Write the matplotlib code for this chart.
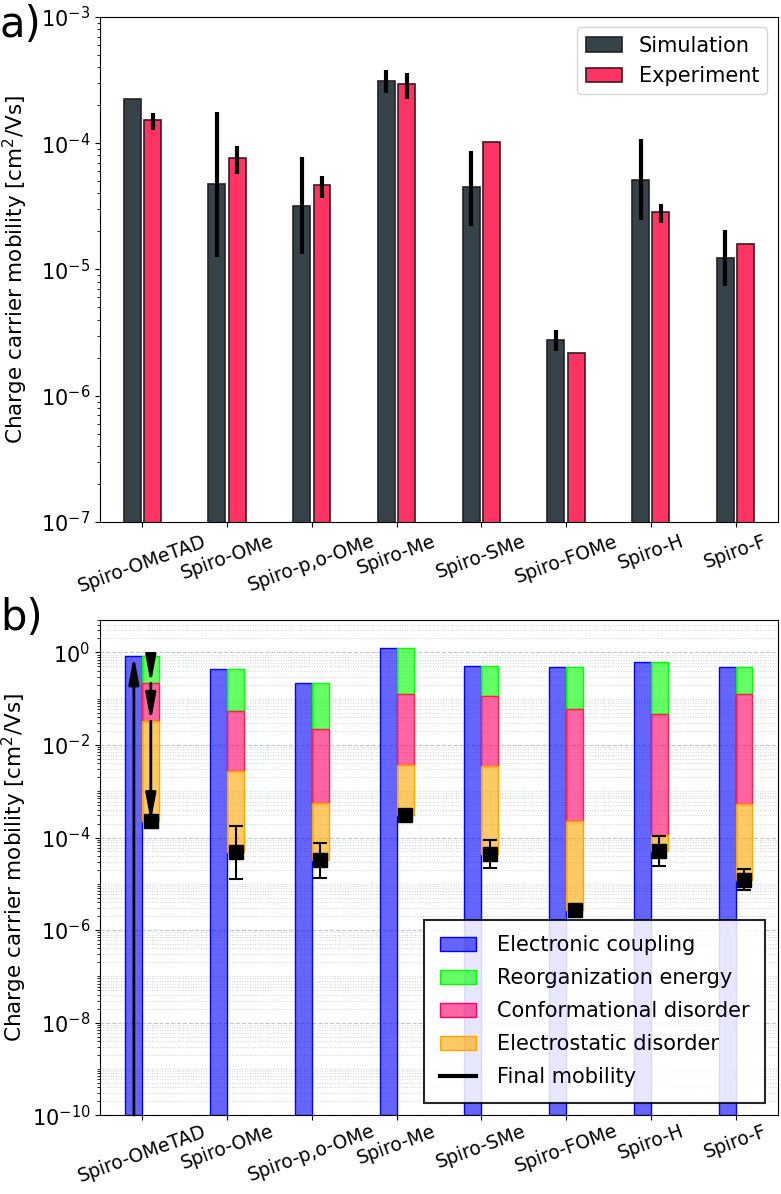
import numpy as np
import matplotlib
matplotlib.use("Agg")
import matplotlib.pyplot as plt
from matplotlib.patches import Patch
from matplotlib.lines import Line2D
from matplotlib.ticker import LogLocator, NullFormatter

# molecules
names = ["Spiro-OMeTAD", "Spiro-OMe", "Spiro-p,o-OMe", "Spiro-Me",
         "Spiro-SMe", "Spiro-FOMe", "Spiro-H", "Spiro-F"]

# panel a: simulated mobility and its range
sim = [2.22e-4, 4.78e-5, 3.2e-5, 3.13e-4, 4.48e-5, 2.77e-6, 5.15e-5, 1.23e-5]
sim_hi = [2.22e-4, 1.77e-4, 7.8e-5, 3.8e-4, 8.7e-5, 3.32e-6, 1.08e-4, 2.04e-5]
sim_lo = [2.22e-4, 1.25e-5, 1.32e-5, 2.48e-4, 2.23e-5, 2.25e-6, 2.45e-5, 7.36e-6]

# panel a: experimental mobility and its range (nan = no error bar)
exp = [1.52e-4, 7.7e-5, 4.64e-5, 2.92e-4, 1.02e-4, 2.17e-6, 2.83e-5, 1.6e-5]
exp_hi = [1.72e-4, 9.46e-5, 5.47e-5, 3.57e-4, np.nan, np.nan, 3.28e-5, np.nan]
exp_lo = [1.28e-4, 5.75e-5, 3.71e-5, 2.26e-4, np.nan, np.nan, 2.33e-5, np.nan]

# panel b: mobility after each contribution is switched on
coupling = [0.835, 0.437, 0.214, 1.22, 0.497, 0.482, 0.624, 0.482]
reorg = [0.214, 0.0547, 0.0217, 0.125, 0.117, 0.0594, 0.0472, 0.129]
conform = [0.0325, 2.77e-3, 5.44e-4, 3.63e-3, 3.46e-3, 2.23e-4, 1.11e-4, 5.19e-4]
final = sim

x = np.arange(len(names))
plt.rcParams['font.family'] = 'DejaVu Sans'

fig = plt.figure(figsize=(7.81, 11.94), dpi=100)
ax1 = fig.add_axes([0.128, 0.5628, 0.868, 0.423])
ax2 = fig.add_axes([0.128, 0.066, 0.868, 0.4147])

# ---------- panel a ----------
c_sim = "#36434a"
c_exp = "#ff3462"
w = 0.2
ax1.bar(x - 0.12, sim, width=w, color=c_sim, edgecolor="#222222", lw=1.2,
        label="Simulation")
ax1.bar(x + 0.12, exp, width=w, color=c_exp, edgecolor="#3a1a22", lw=1.2,
        label="Experiment")
sim_err = [np.array(sim) - np.array(sim_lo), np.array(sim_hi) - np.array(sim)]
exp_err = [np.array(exp) - np.array(exp_lo), np.array(exp_hi) - np.array(exp)]
ax1.errorbar(x - 0.12, sim, yerr=sim_err, fmt="none", ecolor="black", elinewidth=3)
ax1.errorbar(x + 0.12, exp, yerr=exp_err, fmt="none", ecolor="black", elinewidth=3)
ax1.set_yscale("log")
ax1.set_ylim(1e-7, 1e-3)
ax1.set_xlim(-0.5, 7.5)
ax1.set_xticks(x)
ax1.set_xticklabels(names, rotation=20, ha="center", fontsize=13.5)
ax1.tick_params(axis="y", labelsize=15)
ax1.set_ylabel("Charge carrier mobility [cm$^2$/Vs]", fontsize=15.5, labelpad=8)
ax1.legend(loc="upper right", fontsize=15, handlelength=1.75)
fig.text(0.0, 0.997, "a)", fontsize=30, va="top", ha="left")

# ---------- panel b ----------
blue = "#0000ff"
green = "#00ff00"
pink = "#ff0066"
orange = "#ffa500"
a = 0.6
bottom = 1e-10
xs = x + 0.1
ax2.bar(x - 0.1, np.array(coupling) - bottom, width=w, bottom=bottom,
        color=matplotlib.colors.to_rgba(blue, a), edgecolor=blue, lw=1)
ax2.bar(xs, np.array(coupling) - np.array(reorg), width=w, bottom=reorg,
        color=matplotlib.colors.to_rgba(green, a), edgecolor=green, lw=1)
ax2.bar(xs, np.array(reorg) - np.array(conform), width=w, bottom=conform,
        color=matplotlib.colors.to_rgba(pink, a), edgecolor="#ff2040", lw=1)
ax2.bar(xs, np.array(conform) - np.array(final), width=w, bottom=final,
        color=matplotlib.colors.to_rgba(orange, a), edgecolor=orange, lw=1)

ax2.errorbar(xs, final, yerr=sim_err, fmt="none", ecolor="black",
             elinewidth=1.5, capsize=5, capthick=1.5, zorder=4)
ax2.plot(xs, final, "s", color="black", markersize=10, zorder=5)

# arrows for the first molecule
arr = dict(arrowstyle="-|>,head_length=0.9,head_width=0.17", color="black",
           lw=2, mutation_scale=18, shrinkA=0, shrinkB=0)
ax2.annotate("", xy=(x[0] - 0.1, coupling[0]), xytext=(x[0] - 0.1, bottom),
             arrowprops=arr, zorder=6)
steps = [coupling[0], reorg[0], conform[0], final[0]]
for s0, s1 in zip(steps[:-1], steps[1:]):
    ax2.annotate("", xy=(xs[0], s1), xytext=(xs[0], s0), arrowprops=arr, zorder=6)

ax2.set_yscale("log")
ax2.set_ylim(1e-10, 5)
ax2.set_xlim(-0.5, 7.5)
ax2.yaxis.set_major_locator(LogLocator(base=100, numticks=20))
ax2.yaxis.set_minor_locator(LogLocator(base=10, subs=np.arange(1, 10), numticks=100))
ax2.yaxis.set_minor_formatter(NullFormatter())
ax2.grid(which="major", axis="y", ls="--", color="#b0b8c0", lw=0.8, alpha=0.8)
ax2.grid(which="minor", axis="y", ls=":", color="#b0b8c0", lw=0.7, alpha=0.6)
ax2.set_axisbelow(True)
ax2.set_xticks(x)
ax2.set_xticklabels(names, rotation=20, ha="center", fontsize=13.5)
ax2.tick_params(axis="x", pad=1)
ax2.tick_params(axis="y", labelsize=15)
ax2.set_ylabel("Charge carrier mobility [cm$^2$/Vs]", fontsize=15.5, labelpad=2)

handles = [Patch(facecolor=matplotlib.colors.to_rgba(blue, a), edgecolor=blue),
           Patch(facecolor=matplotlib.colors.to_rgba(green, a), edgecolor=green),
           Patch(facecolor=matplotlib.colors.to_rgba(pink, a), edgecolor=pink),
           Patch(facecolor=matplotlib.colors.to_rgba(orange, a), edgecolor=orange),
           Line2D([], [], color="black", lw=3)]
labels = ["Electronic coupling", "Reorganization energy", "Conformational disorder",
          "Electrostatic disorder", "Final mobility"]
leg = ax2.legend(handles, labels, loc="lower right", fontsize=15, fancybox=False,
                 framealpha=0.85, edgecolor="black", borderpad=0.75,
                 labelspacing=0.62, handlelength=1.75, handletextpad=1.0,
                 borderaxespad=0.6)
leg.get_frame().set_linewidth(1.5)
fig.text(0.0, 0.5, "b)", fontsize=30, va="top", ha="left")

fig.savefig("out.png", dpi=100)
